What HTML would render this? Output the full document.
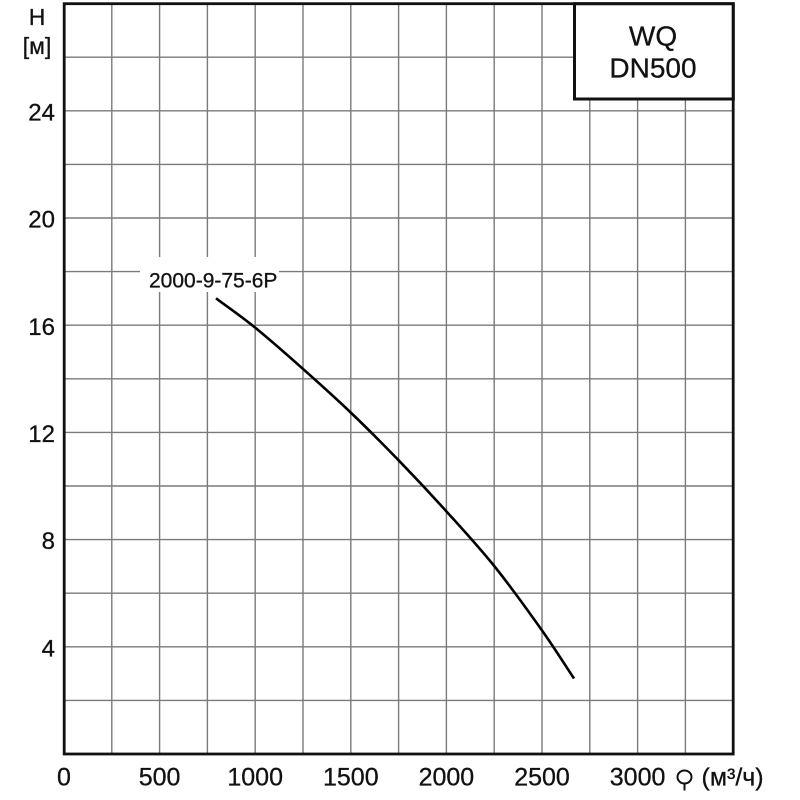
<!DOCTYPE html>
<html>
<head>
<meta charset="utf-8">
<style>
html,body{margin:0;padding:0;background:#fff;}
svg{display:block;}
text{font-family:"Liberation Sans",Arial,sans-serif;fill:#111;stroke:#111;stroke-width:0.3;}
</style>
</head>
<body>
<svg width="800" height="800" viewBox="0 0 800 800" xmlns="http://www.w3.org/2000/svg">
<rect x="0" y="0" width="800" height="800" fill="#fff"/>
<g stroke="#7a7a7a" stroke-width="1.4" fill="none">
<line x1="111.8" y1="3.6" x2="111.8" y2="754"/>
<line x1="159.6" y1="3.6" x2="159.6" y2="754"/>
<line x1="207.4" y1="3.6" x2="207.4" y2="754"/>
<line x1="255.2" y1="3.6" x2="255.2" y2="754"/>
<line x1="303" y1="3.6" x2="303" y2="754"/>
<line x1="350.8" y1="3.6" x2="350.8" y2="754"/>
<line x1="398.6" y1="3.6" x2="398.6" y2="754"/>
<line x1="446.4" y1="3.6" x2="446.4" y2="754"/>
<line x1="494.2" y1="3.6" x2="494.2" y2="754"/>
<line x1="542" y1="3.6" x2="542" y2="754"/>
<line x1="589.8" y1="3.6" x2="589.8" y2="754"/>
<line x1="637.6" y1="3.6" x2="637.6" y2="754"/>
<line x1="685.4" y1="3.6" x2="685.4" y2="754"/>
<line x1="64" y1="700.4" x2="733" y2="700.4"/>
<line x1="64" y1="646.8" x2="733" y2="646.8"/>
<line x1="64" y1="593.2" x2="733" y2="593.2"/>
<line x1="64" y1="539.6" x2="733" y2="539.6"/>
<line x1="64" y1="486" x2="733" y2="486"/>
<line x1="64" y1="432.4" x2="733" y2="432.4"/>
<line x1="64" y1="378.8" x2="733" y2="378.8"/>
<line x1="64" y1="325.2" x2="733" y2="325.2"/>
<line x1="64" y1="271.6" x2="733" y2="271.6"/>
<line x1="64" y1="218" x2="733" y2="218"/>
<line x1="64" y1="164.4" x2="733" y2="164.4"/>
<line x1="64" y1="110.8" x2="733" y2="110.8"/>
<line x1="64" y1="57.2" x2="733" y2="57.2"/>
</g>
<!-- label background -->
<rect x="140" y="257" width="139" height="35" fill="#fff"/>
<text x="149" y="287.7" font-size="21">2000-9-75-6P</text>
<!-- curve -->
<path fill="none" stroke="#000" stroke-width="2.6" stroke-linejoin="round" stroke-linecap="butt"
d="M216,298.3 C229,308.03 240.62,315.83 255,327.5 C269.38,339.17 286.35,354.13 302.3,368.3 C318.25,382.47 334.58,397.1 350.7,412.5 C366.82,427.9 383,444.17 399,460.7 C415,477.23 430.7,493.98 446.7,511.7 C462.7,529.42 479.17,547.28 495,567 C510.83,586.72 528.53,611.42 541.7,630 C554.87,648.58 563.23,662.33 574,678.5"/>
<!-- title box -->
<rect x="574.5" y="3.7" width="158.8" height="95.3" fill="#fff" stroke="#111" stroke-width="3"/>
<text x="653" y="45.7" font-size="28" text-anchor="middle">WQ</text>
<text x="653" y="77.3" font-size="28" text-anchor="middle">DN500</text>
<!-- frame -->
<rect x="64.2" y="3.7" width="669" height="750.3" fill="none" stroke="#111" stroke-width="2.8"/>
<!-- y labels -->
<g font-size="24" text-anchor="end">
<text x="55" y="120.3">24</text>
<text x="55" y="227.6">20</text>
<text x="55" y="334.8">16</text>
<text x="55" y="442">12</text>
<text x="55" y="549.2">8</text>
<text x="55" y="656.4">4</text>
</g>
<text x="37" y="25" font-size="23" text-anchor="middle">H</text>
<text x="37" y="54" font-size="23" text-anchor="middle">[м]</text>
<!-- x labels -->
<g font-size="25" text-anchor="middle">
<text x="64" y="785.5">0</text>
<text x="159.6" y="785.5">500</text>
<text x="255.2" y="785.5">1000</text>
<text x="350.8" y="785.5">1500</text>
<text x="446.4" y="785.5">2000</text>
<text x="542" y="785.5">2500</text>
<text x="637.6" y="785.5">3000</text>
</g>
<g fill="none" stroke="#111" stroke-width="2">
<ellipse cx="684.5" cy="777" rx="7" ry="6.5"/>
<line x1="684.5" y1="783.5" x2="684.5" y2="790.5"/>
</g>
<text x="701.5" y="785.5" font-size="25">(м³/ч)</text>
</svg>
</body>
</html>
